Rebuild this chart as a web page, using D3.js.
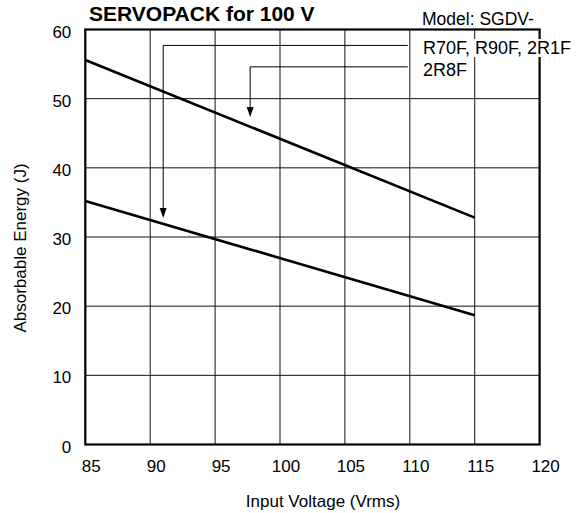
<!DOCTYPE html>
<html><head><meta charset="utf-8">
<script src="https://cdn.jsdelivr.net/npm/d3@7"></script>
<style>
html,body{margin:0;padding:0;background:#fff;}
text{font-family:"Liberation Sans",Arial,Helvetica,sans-serif;fill:#000;}
</style></head>
<body>
<svg id="c" width="578" height="513"></svg>
<script>
const title = "SERVOPACK for 100 V";
const modelText = "Model: SGDV-";
const xLabel = "Input Voltage (Vrms)";
const yLabel = "Absorbable Energy (J)";
const xTicks = [85, 90, 95, 100, 105, 110, 115, 120];
const yTicks = [0, 10, 20, 30, 40, 50, 60];
const voltage = [85, 115];
const energyA = [55.6, 32.8];   // 2R8F
const energyB = [35.2, 18.7];   // R70F, R90F, 2R1F
const annLabels = ["R70F, R90F, 2R1F", "2R8F"];
const annArrowV = [91.0, 97.7];
const annTipJ = [32.75, 47.35];
const annLeaderJ = [57.7, 54.6];

const svg = d3.select("#c");
const x = d3.scaleLinear().domain([85, 120]).range([85.3, 539.6]);
const y = d3.scaleLinear().domain([0, 60]).range([444.5, 29.5]);

// grid
const g = svg.append("g");
g.selectAll("line.vx").data(xTicks.slice(1, -1)).enter().append("line")
  .attr("x1", d => x(d)).attr("x2", d => x(d)).attr("y1", y(0)).attr("y2", y(60))
  .attr("stroke", "#111").attr("stroke-width", 1);
g.selectAll("line.hy").data(yTicks.slice(1, -1)).enter().append("line")
  .attr("y1", d => y(d)).attr("y2", d => y(d)).attr("x1", x(85)).attr("x2", x(120))
  .attr("stroke", "#111").attr("stroke-width", 1);

// data lines
const line = d3.line().x((d, i) => x(voltage[i])).y(d => y(d));
[energyA, energyB].forEach(s => {
  svg.append("path").attr("d", line(s)).attr("fill", "none")
    .attr("stroke", "#000").attr("stroke-width", 2.6);
});

// border
svg.append("rect").attr("x", x(85)).attr("y", y(60))
  .attr("width", x(120) - x(85)).attr("height", y(0) - y(60))
  .attr("fill", "none").attr("stroke", "#000").attr("stroke-width", 2.2);

// axes tick labels
svg.selectAll("text.xt").data(xTicks).enter().append("text")
  .attr("x", d => x(d) + 6).attr("y", y(0) + 27.5)
  .attr("text-anchor", "middle").attr("font-size", "17px").text(d => d);
svg.selectAll("text.yt").data(yTicks).enter().append("text")
  .attr("x", x(85) - 14).attr("y", d => y(d) + 8)
  .attr("text-anchor", "end").attr("font-size", "17px").text(d => d);

// axis titles
svg.append("text").attr("x", 323).attr("y", 507).attr("text-anchor", "middle")
  .attr("font-size", "17px").text(xLabel);
svg.append("text").attr("transform", "translate(26,248) rotate(-90)")
  .attr("text-anchor", "middle").attr("font-size", "17px").text(yLabel);

// title & model
svg.append("text").attr("x", 89).attr("y", 21).attr("font-size", "21px")
  .attr("font-weight", "bold").text(title);
svg.append("text").attr("x", 422).attr("y", 25).attr("font-size", "17.5px").text(modelText);

// annotations
const labelX = 423;
const labelBase = [54, 76];
annLabels.forEach((lab, i) => {
  const ax = x(annArrowV[i]);
  const ly = y(annLeaderJ[i]);
  const tip = y(annTipJ[i]);
  svg.append("path")
    .attr("d", `M${x(110) - 2},${ly}H${ax}V${tip - 9}`)
    .attr("fill", "none").attr("stroke", "#000").attr("stroke-width", 1);
  svg.append("path")
    .attr("d", `M${ax - 3.5},${tip - 10}L${ax + 3.5},${tip - 10}L${ax},${tip}Z`)
    .attr("fill", "#000");
  const t = svg.append("text").attr("x", labelX).attr("y", labelBase[i])
    .attr("font-size", "18px").text(lab);
  const bb = t.node().getBBox();
  svg.insert("rect", () => t.node())
    .attr("x", bb.x - 1).attr("y", bb.y + 1).attr("width", bb.width + 2).attr("height", bb.height - 2)
    .attr("fill", "#fff");
});
</script>
</body></html>
